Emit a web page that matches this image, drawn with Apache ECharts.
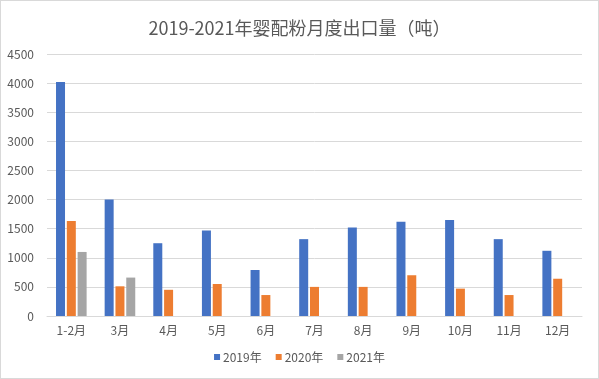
<!DOCTYPE html>
<html><head><meta charset="utf-8">
<script src="https://cdn.jsdelivr.net/npm/echarts@6/dist/echarts.min.js"></script>
<style>
html,body{margin:0;padding:0;background:#fff;}
#c{width:597px;height:377px;border:1px solid #d9d9d9;}
</style></head>
<body><div id="c"></div>
<script>
var categories = ['1-2月','3月','4月','5月','6月','7月','8月','9月','10月','11月','12月'];
var seriesNames = ['2019年','2020年','2021年'];
var data2019 = [4020, 2000, 1250, 1470, 790, 1320, 1520, 1620, 1650, 1320, 1120];
var data2020 = [1630, 510, 450, 550, 360, 500, 500, 700, 470, 360, 640];
var data2021 = [1100, 660, null, null, null, null, null, null, null, null, null];
var yTicks = {min: 0, max: 4500, interval: 500};
var colors = ['#4472C4', '#ED7D31', '#A5A5A5'];
var font = '"Noto Sans CJK SC", "Noto Sans", sans-serif';

var chart = echarts.init(document.getElementById('c'));
var allData = [data2019, data2020, data2021];
chart.setOption({
  animation: false,
  textStyle: {fontFamily: font},
  title: {
    text: '2019-2021年婴配粉月度出口量（吨）',
    left: 'center', top: 13,
    textStyle: {fontSize: 18, fontWeight: 'normal', color: '#595959', fontFamily: font}
  },
  legend: {
    bottom: 10, left: 'center',
    itemWidth: 6, itemHeight: 6, itemGap: 14,
    icon: 'rect',
    textStyle: {fontSize: 12, color: '#595959', padding: [0,0,0,-2]},
    data: seriesNames
  },
  grid: {left: 46, right: 16, top: 53, bottom: 62},
  xAxis: {
    type: 'category', data: categories,
    axisLine: {lineStyle: {color: '#d9d9d9'}},
    axisTick: {show: false},
    axisLabel: {color: '#595959', fontSize: 12, margin: 8}
  },
  yAxis: {
    type: 'value', min: yTicks.min, max: yTicks.max, interval: yTicks.interval,
    axisLine: {show: false}, axisTick: {show: false},
    axisLabel: {color: '#595959', fontSize: 12, margin: 13, formatter: function(v){ return String(v); }},
    splitLine: {lineStyle: {color: '#d9d9d9'}}
  },
  series: seriesNames.map(function(n, i){
    return {name: n, type: 'bar', data: allData[i], barWidth: 9, barGap: '20%',
      itemStyle: {color: colors[i]}};
  })
});
</script></body></html>
